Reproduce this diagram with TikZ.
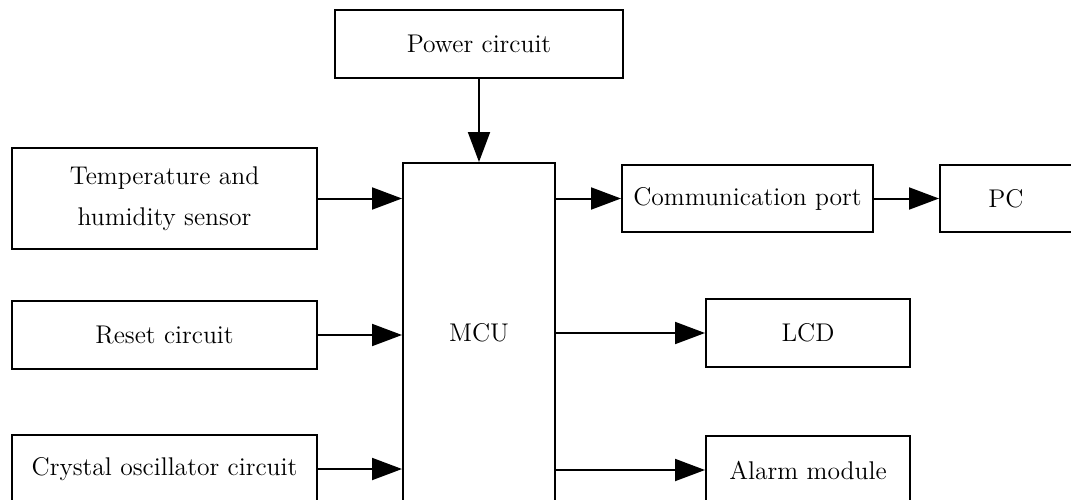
\documentclass[tikz,border=0pt]{standalone}
\usepackage{tikz}
\usetikzlibrary{arrows.meta,positioning,calc}
\tikzset{
  blk/.style={draw=black, fill=white, line width=1pt, inner sep=2pt,
    align=center, font=\fontsize{12.8}{15.5}\selectfont},
  conn/.style={-{Triangle[length=15pt,width=11pt]}, line width=1pt},
}
\begin{document}
\begin{tikzpicture}[x=0.5pt,y=-0.5pt]
  \clip (0,0) rectangle (1071,499);
  % center column
  \node[blk, minimum width=144pt, minimum height=34pt] (power) at (479,44) {Power circuit};
  \node[blk, minimum width=76pt, minimum height=170pt] (mcu) at (479,333) {MCU};
  % inputs
  \node[blk, minimum width=152.5pt, minimum height=50.5pt] (sensor) at (164.5,198.5)
    {Temperature and\\[5pt]humidity sensor};
  \node[blk, minimum width=152.5pt, minimum height=34pt] (reset) at (164.5,335) {Reset circuit};
  \node[blk, minimum width=152.5pt, minimum height=34pt] (crystal) at (164.5,469)
    {Crystal oscillator circuit};
  % outputs
  \node[blk, minimum width=125.5pt, minimum height=33.5pt, inner sep=1pt] (comm) at (747.5,198.5)
    {Communication port};
  \node[blk, minimum width=66pt, minimum height=33.5pt] (pc) at (1006,198.5) {PC};
  \node[blk, minimum width=102pt, minimum height=34pt] (lcd) at (808,333) {LCD};
  \node[blk, minimum width=102pt, minimum height=34pt] (alarm) at (808,470) {Alarm module};
  % connectors
  \draw[conn] (power.south) -- (mcu.north);
  \draw[conn] (sensor.east) -- (sensor.east -| mcu.west);
  \draw[conn] (reset.east) -- (reset.east -| mcu.west);
  \draw[conn] (crystal.east) -- (crystal.east -| mcu.west);
  \draw[conn] (comm.west -| mcu.east) -- (comm.west);
  \draw[conn] (comm.east) -- (pc.west);
  \draw[conn] (lcd.west -| mcu.east) -- (lcd.west);
  \draw[conn] (alarm.west -| mcu.east) -- (alarm.west);
\end{tikzpicture}
\end{document}
